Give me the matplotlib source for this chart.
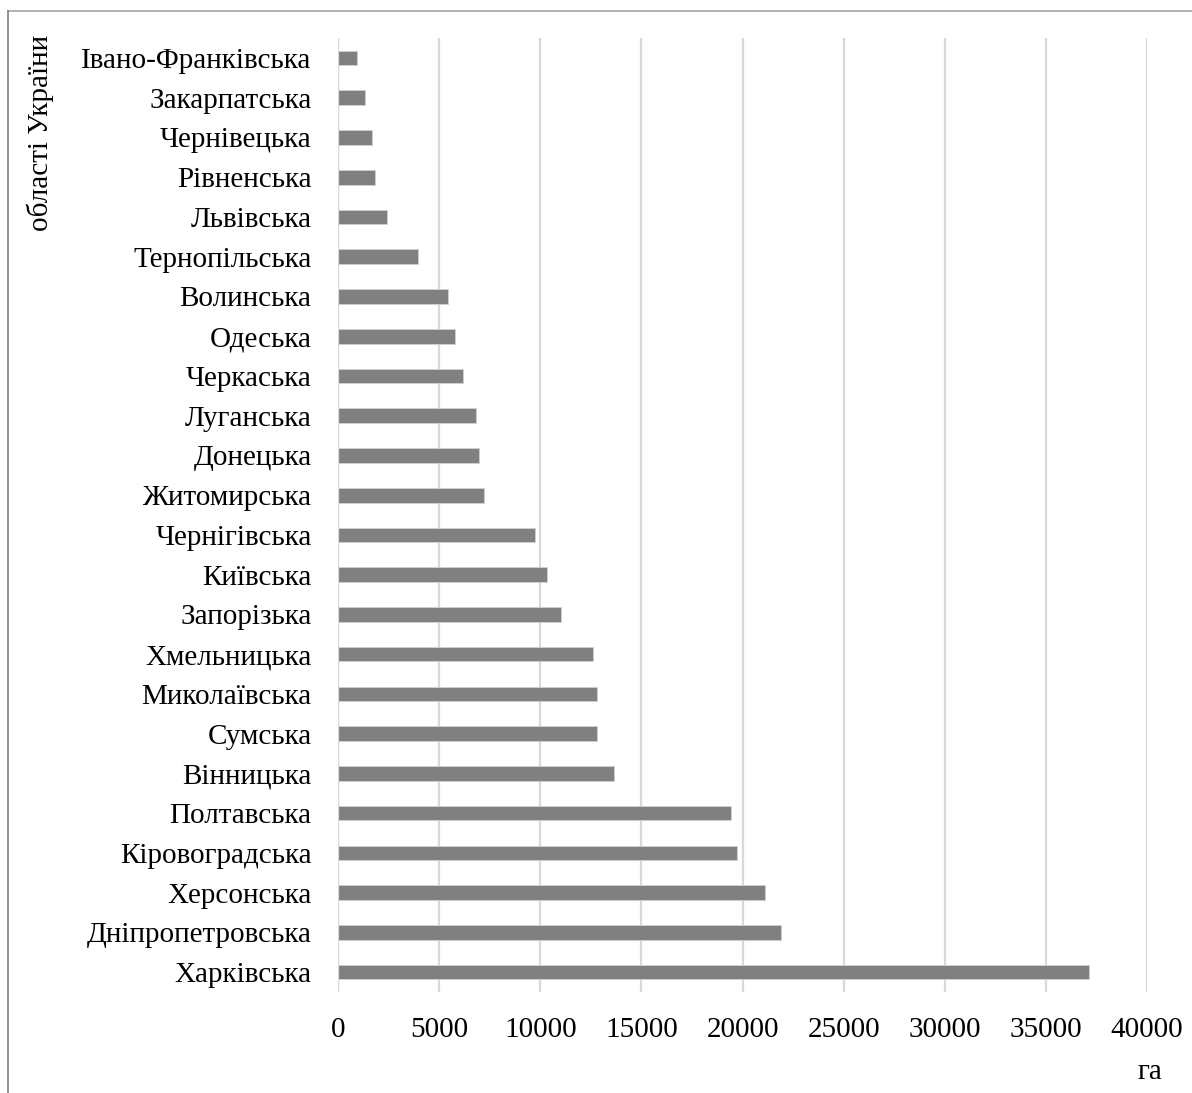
import matplotlib.pyplot as plt
from matplotlib.lines import Line2D

plt.rcParams['font.family'] = ['Liberation Serif', 'DejaVu Serif']

# області (зверху вниз) і площі, га
regions = ['Івано-Франківська', 'Закарпатська', 'Чернівецька', 'Рівненська',
           'Львівська', 'Тернопільська', 'Волинська', 'Одеська', 'Черкаська',
           'Луганська', 'Донецька', 'Житомирська', 'Чернігівська', 'Київська',
           'Запорізька', 'Хмельницька', 'Миколаївська', 'Сумська', 'Вінницька',
           'Полтавська', 'Кіровоградська', 'Херсонська', 'Дніпропетровська',
           'Харківська']
area = [920, 1320, 1690, 1810, 2410, 3970, 5430, 5760, 6170, 6830, 6950,
        7230, 9720, 10310, 11040, 12630, 12780, 12820, 13630, 19440, 19740,
        21120, 21880, 37120]
xticks = [0, 5000, 10000, 15000, 20000, 25000, 30000, 35000, 40000]

fs = 21

fig = plt.figure(figsize=(11.92, 10.93), dpi=100)
ax = fig.add_axes([0.2836, 0.0924, 0.6787, 0.8728])

y = range(len(regions))
ax.barh(y, area, height=0.37, color='#808080', edgecolor='#d0d0d0',
        linewidth=0.6, zorder=3)
ax.set_ylim(len(regions) - 0.5, -0.5)
ax.set_yticks(list(y))
ax.set_yticklabels(regions, fontsize=fs)
ax.set_xlim(0, 40000)
ax.set_xticks(xticks)
ax.set_xticklabels([str(v) for v in xticks], fontsize=fs)
ax.tick_params(axis='both', length=0)
ax.tick_params(axis='y', pad=19)
ax.tick_params(axis='x', pad=18)
ax.grid(axis='x', color='#d9d9d9', linewidth=1.6, zorder=0)
for s in ax.spines.values():
    s.set_visible(False)
ax.axvline(0, color='#d9d9d9', linewidth=1.6, zorder=4)

fig.text(0.0335, 0.878, 'області України', rotation=90, fontsize=fs,
         ha='center', va='center')
fig.text(0.9648, 0.019, 'га', fontsize=fs, ha='center', va='center')

# рамка діаграми (видно лише верх і ліву сторону)
fig.add_artist(Line2D([0.007, 1.0], [0.9899, 0.9899], color='#a6a6a6',
                      linewidth=1.2, transform=fig.transFigure))
fig.add_artist(Line2D([0.007, 0.007], [0.0, 0.9899], color='#7f7f7f',
                      linewidth=1.2, transform=fig.transFigure))

fig.savefig('out.png', dpi=100)
